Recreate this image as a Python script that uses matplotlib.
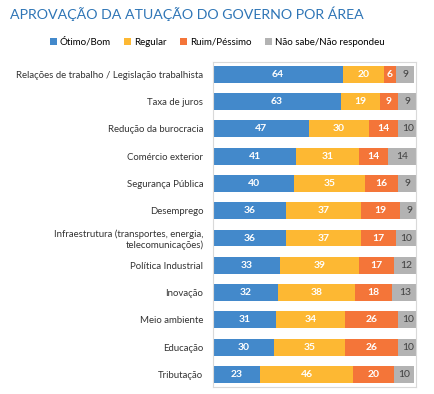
import matplotlib.pyplot as plt
import numpy as np

plt.rcParams['font.family'] = ['Lato', 'DejaVu Sans']

categories = ["Relações de trabalho / Legislação trabalhista", "Taxa de juros",
              "Redução da burocracia", "Comércio exterior", "Segurança Pública",
              "Desemprego", "Infraestrutura (transportes, energia,\ntelecomunicações)",
              "Política Industrial", "Inovação", "Meio ambiente", "Educação", "Tributação"]
otimo = [64, 63, 47, 41, 40, 36, 36, 33, 32, 31, 30, 23]
regular = [20, 19, 30, 31, 35, 37, 37, 39, 38, 34, 35, 46]
ruim = [6, 9, 14, 14, 16, 19, 17, 17, 18, 26, 26, 20]
nao_sabe = [9, 9, 10, 14, 9, 9, 10, 12, 13, 10, 10, 10]
series_names = ["Ótimo/Bom", "Regular", "Ruim/Péssimo", "Não sabe/Não respondeu"]

colors = ["#4389CB", "#FDB833", "#F47539", "#B3B3B3"]
text_colors = ["white", "white", "white", "#404040"]

fig = plt.figure(figsize=(4.34, 3.94), dpi=100)
ax = fig.add_axes([0.491, 0.018, 0.468, 0.825])

y = np.arange(len(categories))
left = np.zeros(len(categories))
for vals, name, c, tc in zip([otimo, regular, ruim, nao_sabe], series_names, colors, text_colors):
    vals = np.array(vals)
    bars = ax.barh(y, vals, left=left, height=0.62, color=c, label=name)
    for yi, l, v in zip(y, left, vals):
        ax.text(l + v / 2, yi, str(v), ha='center', va='center', color=tc,
                fontsize=7.5, fontweight='bold' if tc == 'white' else 'normal')
    left = left + vals

ax.set_xlim(0, 100)
ax.set_ylim(len(categories) - 0.54, -0.46)
ax.set_yticks(y)
ax.set_yticklabels(categories, fontsize=6.9, color='#333333')
ax.tick_params(axis='y', length=0, pad=7)
ax.set_xticks([])
for s in ax.spines.values():
    s.set_color('#D9D9D9')
    s.set_linewidth(0.8)

fig.text(0.023, 0.965, "APROVAÇÃO DA ATUAÇÃO DO GOVERNO POR ÁREA", fontsize=10.2,
         color='#2E75B6', va='center', ha='left')
fig.legend(loc='center', bbox_to_anchor=(0.5, 0.893), ncol=4, frameon=False,
           fontsize=7, handlelength=0.7, handleheight=0.7, handletextpad=0.3,
           columnspacing=1.4)

fig.savefig("out.png", dpi=100)
